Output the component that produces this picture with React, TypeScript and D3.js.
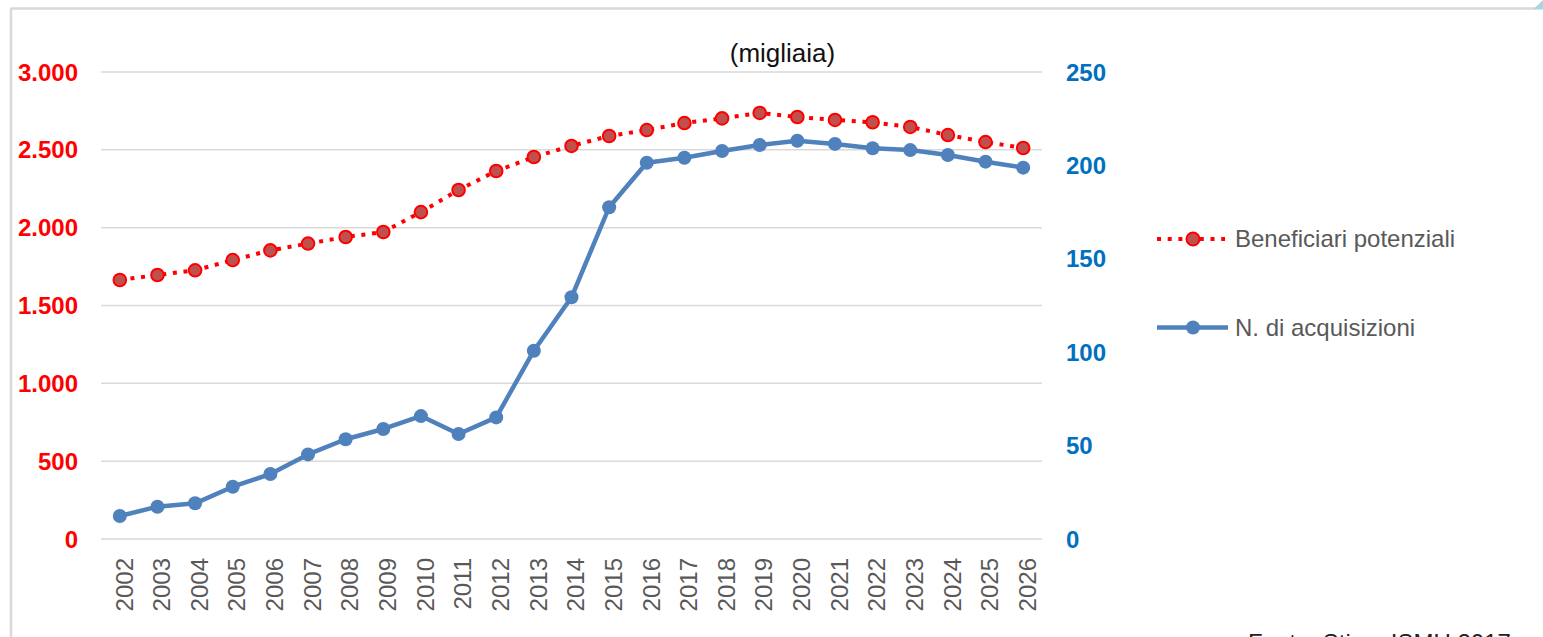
import React from "react";
import * as d3 from "d3";

const years = ["2002","2003","2004","2005","2006","2007","2008","2009","2010","2011","2012","2013","2014","2015","2016","2017","2018","2019","2020","2021","2022","2023","2024","2025","2026"];
const beneficiari = [1664,1696,1726,1792,1854,1898,1940,1972,2100,2242,2364,2454,2525,2589,2627,2672,2702,2737,2711,2692,2677,2647,2595,2550,2512];
const acquisizioni = [12.3,17.3,19.1,28,34.8,45.3,53.4,58.9,65.8,56.2,65.1,100.8,129.4,177.6,201.4,204.1,207.7,210.9,213.2,211.5,209.2,208.2,205.6,202,198.8];
const leftTicks = [0,500,1000,1500,2000,2500,3000];
const rightTicks = [0,50,100,150,200,250];
const seriesNames = ["Beneficiari potenziali","N. di acquisizioni"];
const title = "(migliaia)";
const source = "Fonte: Stime ISMU 2017";

const W = 1543, H = 637;
const plot = { left: 101, right: 1042, top: 72, bottom: 539 };
const RED = "#FF0000", RED_FILL = "#C0504D", BLUE = "#4F81BD", BLUE_TXT = "#0070C0", GRID = "#D9D9D9", GRAY = "#595959";
const FONT = "'Liberation Sans', Arial, sans-serif";

const itLocale = d3.formatLocale({ decimal: ",", thousands: ".", grouping: [3], currency: ["€", ""] });
const fmtLeft = itLocale.format(",d");

export default function App() {
  const x = d3.scalePoint<string>().domain(years).range([plot.left, plot.right]).padding(0.5);
  const yL = d3.scaleLinear().domain([0, 3000]).range([plot.bottom, plot.top]);
  const yR = d3.scaleLinear().domain([0, 250]).range([plot.bottom, plot.top]);

  const redLine = d3.line<number>().x((_, i) => x(years[i])!).y(d => yL(d))(beneficiari)!;
  const blueLine = d3.line<number>().x((_, i) => x(years[i])!).y(d => yR(d))(acquisizioni)!;

  return (
    <svg width={W} height={H} viewBox={`0 0 ${W} ${H}`} style={{ position: "absolute", left: 0, top: 0, display: "block", background: "#fff", fontFamily: FONT }}>
      {/* frame */}
      <line x1={11} y1={8.5} x2={1535} y2={8.5} stroke={GRID} strokeWidth={2.5} />
      <line x1={11} y1={8} x2={11} y2={H} stroke={GRID} strokeWidth={2.5} />
      <polygon points="1533,9.5 1543,9.5 1543,0" fill="#A8D5E0" />

      {/* gridlines */}
      {leftTicks.map(t => (
        <line key={t} x1={plot.left} x2={plot.right} y1={yL(t)} y2={yL(t)} stroke={GRID} strokeWidth={1.5} />
      ))}

      {/* left axis labels */}
      {leftTicks.map(t => (
        <text key={t} x={78} y={yL(t)} dy="0.36em" textAnchor="end" fill={RED} fontWeight="bold" fontSize={24}>{fmtLeft(t)}</text>
      ))}
      {/* right axis labels */}
      {rightTicks.map(t => (
        <text key={t} x={1066} y={yR(t)} dy="0.36em" textAnchor="start" fill={BLUE_TXT} fontWeight="bold" fontSize={24}>{t}</text>
      ))}

      {/* x labels */}
      {years.map(yr => (
        <text key={yr} transform={`translate(${x(yr)},558) rotate(-90)`} dy="0.53em" textAnchor="end" fill={GRAY} fontSize={24}>{yr}</text>
      ))}

      {/* title */}
      <text x={782.5} y={62} textAnchor="middle" fill="#111" fontSize={26}>{title}</text>

      {/* blue series */}
      <path d={blueLine} fill="none" stroke={BLUE} strokeWidth={4.5} strokeLinejoin="round" />
      {acquisizioni.map((v, i) => (
        <circle key={i} cx={x(years[i])} cy={yR(v)} r={7} fill={BLUE} />
      ))}

      {/* red series */}
      <path d={redLine} fill="none" stroke={RED} strokeWidth={4} strokeDasharray="4 6.7" />
      {beneficiari.map((v, i) => (
        <circle key={i} cx={x(years[i])} cy={yL(v)} r={6.3} fill={RED_FILL} stroke={RED} strokeWidth={2} />
      ))}

      {/* legend */}
      <g>
        <line x1={1157} x2={1225} y1={239} y2={239} stroke={RED} strokeWidth={4} strokeDasharray="4 6.7" />
        <circle cx={1193} cy={239} r={6.5} fill={RED_FILL} stroke={RED} strokeWidth={2} />
        <text x={1235} y={247} fill={GRAY} fontSize={24}>{seriesNames[0]}</text>
        <line x1={1157} x2={1228} y1={327.5} y2={327.5} stroke={BLUE} strokeWidth={4.5} />
        <circle cx={1193} cy={327.5} r={7} fill={BLUE} />
        <text x={1235} y={335.5} fill={GRAY} fontSize={24}>{seriesNames[1]}</text>
      </g>

      {/* source, cut off at the bottom edge as in the reference */}
      <text x={1248} y={651} fill="#222" fontSize={24}>{source}</text>
    </svg>
  );
}
